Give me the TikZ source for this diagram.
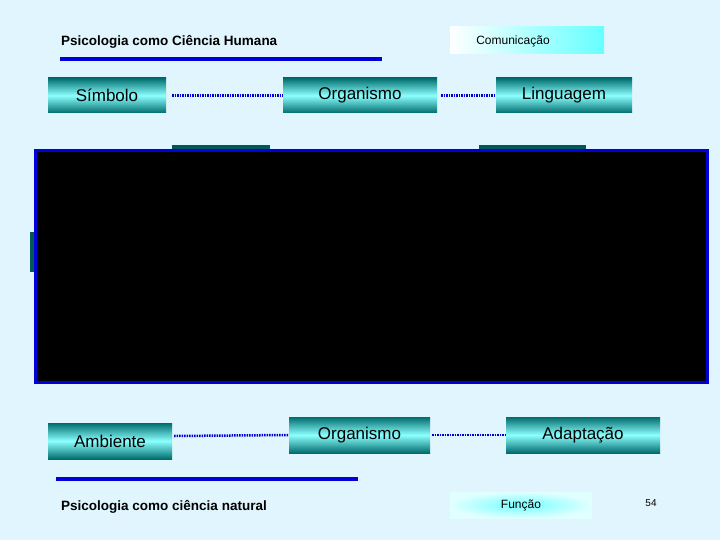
\documentclass[tikz,border=0pt]{standalone}
\usepackage{fontspec}
\setmainfont{Liberation Sans}
\begin{document}
\begin{tikzpicture}[x=1pt,y=-1pt,
  tbox/.style={inner sep=0pt,top color=teal!85!black,bottom color=teal!85!black,middle color=cyan!45,font=\fontsize{17}{17}\selectfont},
  dotl/.style={blue!85!black,line width=2.5pt,dash pattern=on 1.5pt off 1pt},
  ttl/.style={font=\fontsize{13.5}{14}\bfseries\selectfont,anchor=west,inner sep=0pt}]
\fill[cyan!12] (0,0) rectangle (720,540);
\useasboundingbox (0,0) rectangle (720,540);
% top row
\node[tbox,minimum width=118pt,minimum height=35pt] (s) at (107,95.5) {Símbolo};
\node[tbox,minimum width=154pt,minimum height=35pt] (o1) at (360,95.5) {Organismo};
\node[tbox,minimum width=136pt,minimum height=35pt] (l) at (564,95.5) {Linguagem};
\draw[dotl] (s.east)++(6,0) coordinate (s1) -- (o1.west);
\draw[dotl] (o1.east)++(4,0) coordinate (o2) -- (l.west);
% partial boxes behind
\fill[teal!70!black] (172,145) rectangle (270,152);
\fill[teal!70!black] (479,145) rectangle (586,152);
\fill[teal!70!black] (30,232) rectangle (37,272);
% black panel
\node[draw=blue!85!black,line width=3pt,fill=black,minimum width=672pt,minimum height=232pt,inner sep=0pt] (panel) at (371.5,266.5) {};
% bottom row
\node[tbox,minimum width=124pt,minimum height=36pt] (a) at (110,441) {Ambiente};
\node[tbox,minimum width=141pt,minimum height=36pt] (o3) at (359.5,435) {Organismo};
\node[tbox,minimum width=154pt,minimum height=36pt] (ad) at (583,435) {Adaptação};
\draw[dotl] (a.east) ++(2,-5) coordinate (a1) -- (o3.west);
\draw[dotl] (o3.east)++(2,0) coordinate (o4) -- (ad.west);
% titles
\node[ttl] (t1) at (61,42) {Psicologia como Ciência Humana};
\draw[blue!85!black,line width=3.5pt] (60,59) -- (382,59);
\node[ttl] (t2) at (61,507) {Psicologia como ciência natural};
\draw[blue!85!black,line width=3.5pt] (56,479) -- (358,479);
\shade[left color=white,right color=cyan!60] (450,27) rectangle (604,54);
\node[font=\fontsize{12}{12}\selectfont,inner sep=0pt] (c) at (513,41) {Comunicação};
\shade[inner color=cyan!55,outer color=cyan!12] (450,492) rectangle (592,518);
\node[font=\fontsize{12}{12}\selectfont,inner sep=0pt] (f) at (521,505) {Função};
\node[font=\fontsize{10}{10}\selectfont,inner sep=0pt] (n) at (651,503) {54};
\end{tikzpicture}
\end{document}
